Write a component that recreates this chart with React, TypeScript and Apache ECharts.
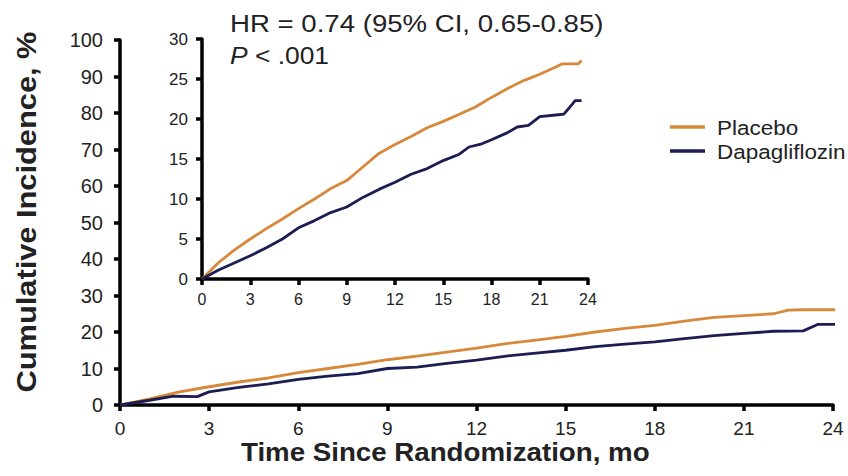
import React, { useEffect, useRef } from "react";
import * as echarts from "echarts";

const FONT = "'Liberation Sans', Arial, Helvetica, sans-serif";
const ORANGE = "#D6893A";
const NAVY = "#1C1D52";

// Main chart (0-100 %)
const mainPlaceboMonths = [0, 1, 2, 3, 4, 5, 6, 7, 8, 9, 10, 11, 12, 13, 14, 15, 16, 17, 18, 19, 20, 21, 22, 22.5, 23, 24.15];
const mainPlaceboValues = [0, 1.7, 3.6, 5.0, 6.3, 7.4, 8.9, 10.0, 11.1, 12.4, 13.4, 14.5, 15.6, 16.8, 17.8, 18.8, 20.0, 21.0, 21.8, 23.0, 24.0, 24.5, 25.0, 26.0, 26.1, 26.1];
const mainDapaMonths = [0, 1, 1.8, 2.6, 3, 4, 5, 6, 7, 8, 9, 10, 11, 12, 13, 14, 15, 16, 17, 18, 19, 20, 21, 22, 23, 23.5, 24.15];
const mainDapaValues = [0, 1.3, 2.4, 2.3, 3.6, 4.8, 5.8, 7.0, 7.9, 8.6, 10.0, 10.4, 11.4, 12.3, 13.4, 14.2, 15.0, 16.0, 16.7, 17.3, 18.2, 19.0, 19.6, 20.2, 20.3, 22.1, 22.1];

// Inset (0-30 %)
const insetPlaceboMonths = [0, 1, 2, 3, 4, 5, 6, 7, 8, 9, 10, 11, 12, 13, 14, 15, 16, 17, 18, 19, 20, 21, 22, 22.4, 23.4, 23.6];
const insetPlaceboValues = [0, 2.0, 3.6, 5.0, 6.3, 7.5, 8.8, 10.0, 11.3, 12.3, 14.0, 15.7, 16.8, 17.8, 18.9, 19.7, 20.6, 21.5, 22.7, 23.8, 24.8, 25.6, 26.5, 26.9, 26.9, 27.3];
const insetDapaMonths = [0, 1, 2, 3, 4, 5, 6, 7, 8, 9, 10, 11, 12, 13, 14, 15, 16, 16.6, 17.4, 18, 19, 19.6, 20.3, 21, 22, 22.5, 23, 23.2, 23.6];
const insetDapaValues = [0, 1.1, 2.0, 2.9, 3.9, 5.0, 6.4, 7.3, 8.3, 9.0, 10.2, 11.2, 12.1, 13.1, 13.8, 14.8, 15.6, 16.5, 16.9, 17.4, 18.3, 19.0, 19.2, 20.3, 20.5, 20.6, 21.8, 22.3, 22.3];

const seriesNames = ["Placebo", "Dapagliflozin"];
const seriesColors = [ORANGE, NAVY];
const hrText = "HR = 0.74 (95% CI, 0.65-0.85)";
const pText = "{i|P} < .001";
const xTitle = "Time Since Randomization, mo";
const yTitle = "Cumulative Incidence, %";

const zip = (xs: number[], ys: number[]) => xs.map((x, i) => [x, ys[i]]);

const mkAxisLine = () => ({ show: true, lineStyle: { color: "#000", width: 3.5 } });
const mkAxisTick = () => ({ show: true, length: 6, lineStyle: { color: "#000", width: 3.5 } });

export default function App() {
  const ref = useRef<HTMLDivElement>(null);

  useEffect(() => {
    if (!ref.current) return;
    const chart = echarts.init(ref.current, undefined, { renderer: "svg" });
    const line = (name: string, color: string, data: number[][], idx: number) => ({
      name,
      type: "line",
      xAxisIndex: idx,
      yAxisIndex: idx,
      data,
      showSymbol: false,
      lineStyle: { color, width: 2.8 },
      itemStyle: { color },
    });
    const legendItems = seriesNames.flatMap((name, i) => [
      {
        type: "line",
        shape: { x1: 670, y1: 127 + i * 24, x2: 705, y2: 127 + i * 24 },
        style: { stroke: seriesColors[i], lineWidth: 3.5 },
      },
      {
        type: "text", x: 717, y: 128 + i * 24, scaleX: 1.07,
        style: { text: name, fontSize: 21, fontFamily: FONT, fill: "#222", align: "left", verticalAlign: "middle" },
      },
    ]);
    chart.setOption({
      animation: false,
      textStyle: { fontFamily: FONT },
      grid: [
        { left: 120, right: 15, top: 40, bottom: 71 },
        { left: 202, right: 260, top: 39, bottom: 197 },
      ],
      xAxis: [
        {
          type: "value", gridIndex: 0, min: 0, max: 24, interval: 3,
          axisLine: mkAxisLine(), axisTick: mkAxisTick(), splitLine: { show: false },
          axisLabel: { fontSize: 19, color: "#222", margin: 14 },
        },
        {
          type: "value", gridIndex: 1, min: 0, max: 24, interval: 3,
          axisLine: mkAxisLine(), axisTick: mkAxisTick(), splitLine: { show: false },
          axisLabel: { fontSize: 16, color: "#222", margin: 12 },
        },
      ],
      yAxis: [
        {
          type: "value", gridIndex: 0, min: 0, max: 100, interval: 10,
          axisLine: mkAxisLine(), axisTick: mkAxisTick(), splitLine: { show: false },
          axisLabel: { fontSize: 20, color: "#222", margin: 17 },
        },
        {
          type: "value", gridIndex: 1, min: 0, max: 30, interval: 5,
          axisLine: mkAxisLine(), axisTick: mkAxisTick(), splitLine: { show: false },
          axisLabel: { fontSize: 17, color: "#222", margin: 14 },
        },
      ],
      series: [
        line(seriesNames[0], ORANGE, zip(mainPlaceboMonths, mainPlaceboValues), 0),
        line(seriesNames[1], NAVY, zip(mainDapaMonths, mainDapaValues), 0),
        line(seriesNames[0], ORANGE, zip(insetPlaceboMonths, insetPlaceboValues), 1),
        line(seriesNames[1], NAVY, zip(insetDapaMonths, insetDapaValues), 1),
      ],
      graphic: [
        {
          type: "text", x: 230, y: 24, scaleX: 1.15,
          style: { text: hrText, fontSize: 24, fontFamily: FONT, fill: "#222", align: "left", verticalAlign: "middle" },
        },
        {
          type: "text", x: 230, y: 55, scaleX: 1.1,
          style: {
            text: pText, fontSize: 24, fontFamily: FONT, fill: "#222", align: "left", verticalAlign: "middle",
            rich: { i: { fontStyle: "italic", fontSize: 24, fontFamily: FONT, fill: "#222" } },
          },
        },
        {
          type: "text", x: 241, y: 452, scaleX: 1.065,
          style: { text: xTitle, fontSize: 26, fontWeight: "bold", fontFamily: FONT, fill: "#222", align: "left", verticalAlign: "middle" },
        },
        {
          type: "text", x: 26, y: 212, rotation: Math.PI / 2, scaleX: 1.1,
          style: { text: yTitle, fontSize: 28, fontWeight: "bold", fontFamily: FONT, fill: "#222", align: "center", verticalAlign: "middle" },
        },
        ...legendItems,
      ],
    });
    return () => chart.dispose();
  }, []);

  return <div ref={ref} style={{ position: "absolute", left: 0, top: 0, width: 848, height: 476 }} />;
}
